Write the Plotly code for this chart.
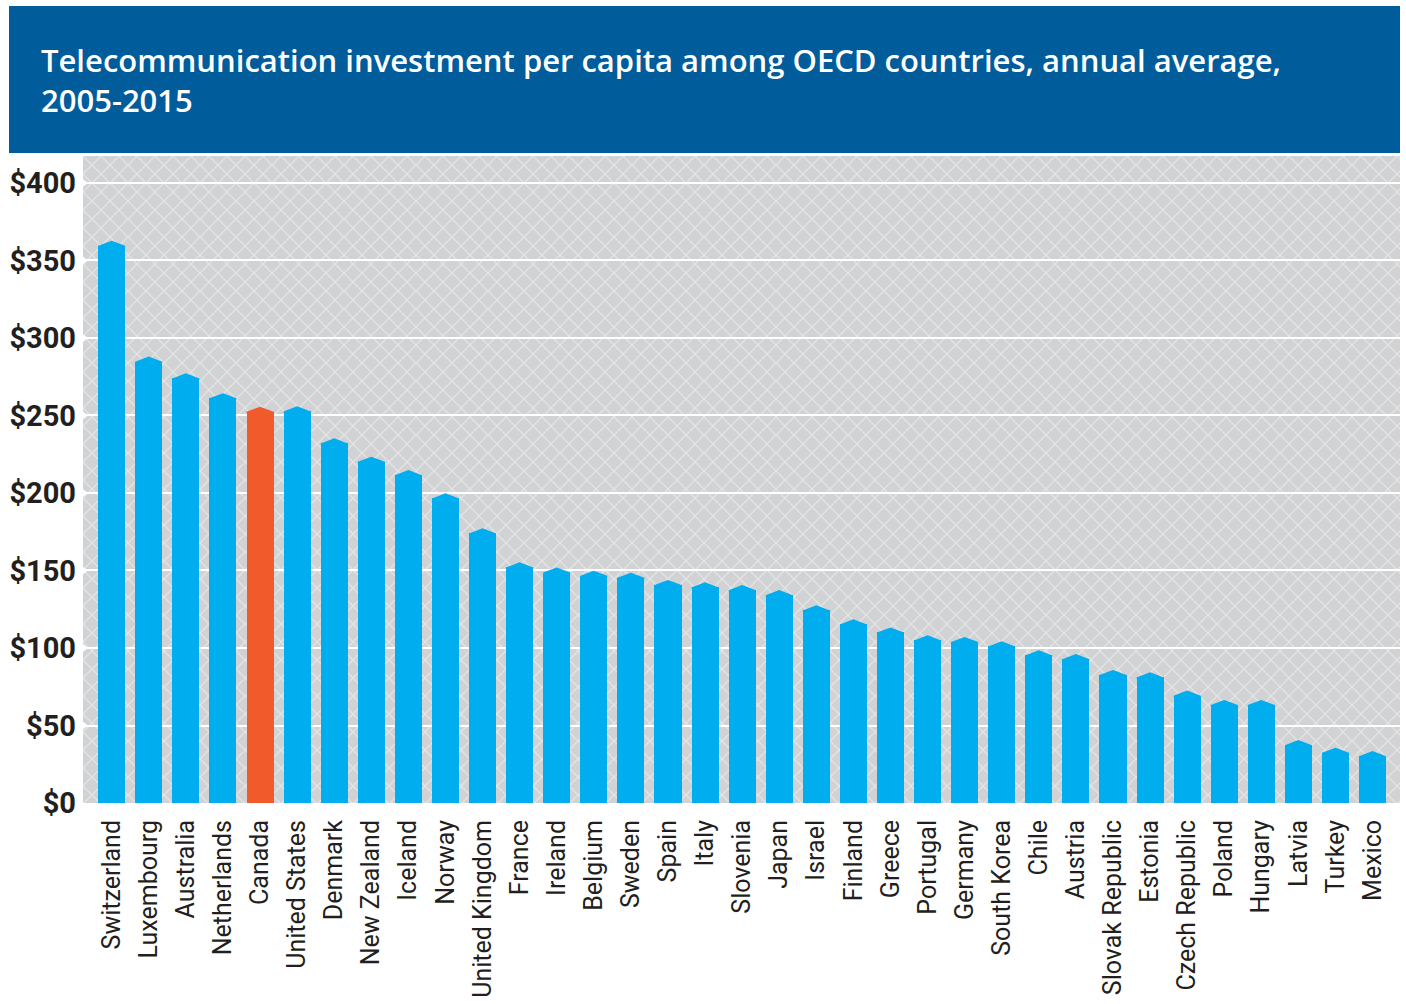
import base64
import plotly.graph_objects as go

countries = ["Switzerland", "Luxembourg", "Australia", "Netherlands", "Canada", "United States",
             "Denmark", "New Zealand", "Iceland", "Norway", "United Kingdom", "France", "Ireland",
             "Belgium", "Sweden", "Spain", "Italy", "Slovenia", "Japan", "Israel", "Finland",
             "Greece", "Portugal", "Germany", "South Korea", "Chile", "Austria", "Slovak Republic",
             "Estonia", "Czech Republic", "Poland", "Hungary", "Latvia", "Turkey", "Mexico"]
values = [362.8, 288.0, 277.2, 264.4, 255.7, 255.9, 235.3, 223.4, 214.8, 199.8, 177.2, 155.3,
          152.0, 149.9, 148.6, 143.9, 142.4, 140.6, 137.4, 127.5, 118.5, 113.3, 108.2, 107.1,
          104.3, 98.5, 96.1, 85.8, 84.3, 72.5, 66.5, 66.5, 40.6, 35.7, 33.5]
highlight = "Canada"
y_ticks = [0, 50, 100, 150, 200, 250, 300, 350, 400]
y_ticktext = ["$" + str(v) for v in y_ticks]
title_lines = ["Telecommunication investment per capita among OECD countries, annual average,",
               "2005-2015"]

BLUE = "#00adee"
ORANGE = "#f15a2b"
BANNER = "#005c9b"
TEXT = "#231f20"

n = len(countries)
xs = list(range(n))
bar_w = 0.73
tip = 3.3  # height of pointed cap in data units
colors = [ORANGE if c == highlight else BLUE for c in countries]

X_RANGE = [-0.774, 34.74]
Y_RANGE = [0, 417.4]

fig = go.Figure()

# bar bodies
fig.add_trace(go.Bar(
    x=xs, y=[v - tip for v in values], width=bar_w,
    marker=dict(color=colors, line=dict(width=0)),
    hoverinfo="skip", showlegend=False,
))

# pointed caps
for col in (BLUE, ORANGE):
    px, py = [], []
    for i, (v, c) in enumerate(zip(values, colors)):
        if c != col:
            continue
        px += [i - bar_w / 2, i - bar_w / 2, i, i + bar_w / 2, i + bar_w / 2, i - bar_w / 2, None]
        py += [v - tip - 0.8, v - tip, v, v - tip, v - tip - 0.8, v - tip - 0.8, None]
    fig.add_trace(go.Scatter(
        x=px, y=py, mode="lines", fill="toself", fillcolor=col,
        line=dict(width=0, color=col), hoverinfo="skip", showlegend=False,
    ))

# white notches at the left edge of the gridlines
fig.add_trace(go.Scatter(
    x=[X_RANGE[0]] * (len(y_ticks) - 1), y=y_ticks[1:], mode="markers",
    marker=dict(symbol="triangle-right", size=10, color="white", line=dict(width=0)),
    cliponaxis=False, hoverinfo="skip", showlegend=False,
))

# crosshatch background pattern
W, H = 1317, 647
P = 18
svg = f'''<svg xmlns="http://www.w3.org/2000/svg" width="{W}" height="{H}" viewBox="0 0 {W} {H}" preserveAspectRatio="none">
<defs><pattern id="p" width="{P}" height="{P}" patternUnits="userSpaceOnUse">
<rect width="{P}" height="{P}" fill="#d1d2d4"/>
<path d="M0,0 L{P},{P} M{P},0 L0,{P}" stroke="#e4e4e6" stroke-width="1.3"/>
</pattern></defs>
<rect width="{W}" height="{H}" fill="url(#p)"/></svg>'''
src = "data:image/svg+xml;base64," + base64.b64encode(svg.encode()).decode()
fig.add_layout_image(dict(source=src, xref="paper", yref="paper", x=0, y=1, sizex=1, sizey=1,
                          sizing="stretch", layer="below", xanchor="left", yanchor="top"))

# banner
ph = 647
fig.add_shape(type="rect", xref="paper", yref="paper",
              x0=(9 - 83) / 1317, x1=1.0, y0=(803 - 153) / ph, y1=(803 - 6) / ph,
              fillcolor=BANNER, line=dict(width=0), layer="above")
fig.add_annotation(xref="paper", yref="paper", x=(39 - 83) / 1317, y=(803 - 80) / ph,
                   xanchor="left", yanchor="middle", align="left", showarrow=False,
                   text="<br>".join(title_lines),
                   font=dict(family="Open Sans", size=31, color="white", weight=600))

fig.update_layout(
    width=1406, height=1004,
    margin=dict(l=83, r=6, t=156, b=201),
    paper_bgcolor="white", plot_bgcolor="rgba(0,0,0,0)",
    bargap=0, showlegend=False,
    xaxis=dict(range=X_RANGE, tickmode="array", tickvals=xs, ticktext=countries,
               tickangle=-90, showgrid=False, zeroline=False, showline=False,
               ticks="", ticklabelstandoff=11, automargin=False,
               tickfont=dict(family="Roboto", size=25, color=TEXT)),
    yaxis=dict(range=Y_RANGE, tickmode="array", tickvals=y_ticks, ticktext=y_ticktext,
               showgrid=True, gridcolor="white", gridwidth=2.2, zeroline=False,
               showline=False, ticks="", ticklabelstandoff=6, automargin=False,
               tickfont=dict(family="Roboto", size=29, color=TEXT, weight=700)),
)

fig.write_html("out.html", config={"displayModeBar": False},
               post_script="document.body.style.margin='0px';document.body.style.overflow='hidden';")
